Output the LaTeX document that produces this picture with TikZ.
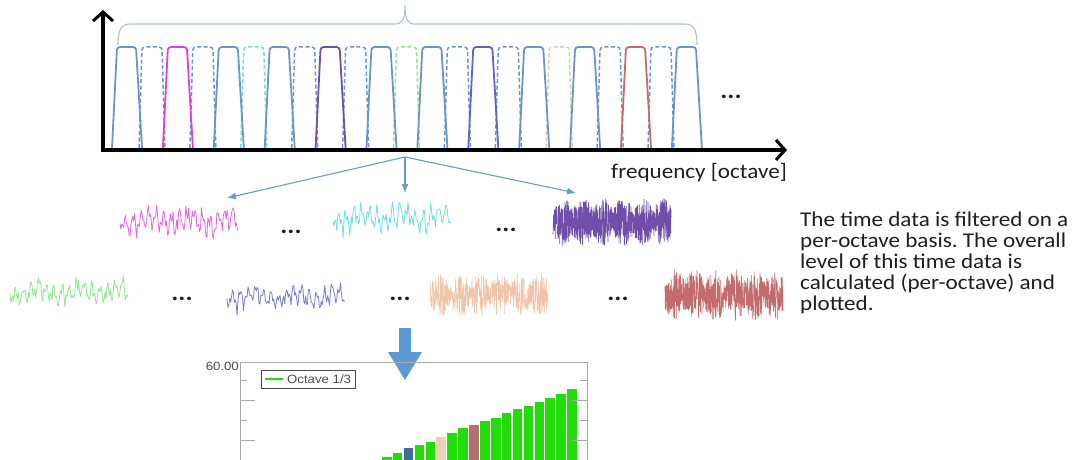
\documentclass[tikz,border=0pt]{standalone}
\usepackage{fontspec}
\setmainfont{Carlito}[FakeStretch=1.1]
\newfontfamily\plotfont{Liberation Sans}[FakeStretch=1.1]
\usetikzlibrary{arrows.meta}
\definecolor{bandblue}{HTML}{6B95C9}
\definecolor{bandmagenta}{HTML}{E040D8}
\definecolor{bandcyan}{HTML}{70DDE8}
\definecolor{bandpurple}{HTML}{6F4FAA}
\definecolor{bandgreen}{HTML}{8FE88F}
\definecolor{bandviolet}{HTML}{6464C8}
\definecolor{bandpeach}{HTML}{F0C4A8}
\definecolor{bandred}{HTML}{C46C6C}
\definecolor{bracegray}{HTML}{A9C1DA}
\definecolor{splitblue}{HTML}{6A9AC8}
\definecolor{bigblue}{HTML}{5B9BD5}
\definecolor{bargreen}{HTML}{22DD0A}
\definecolor{barsteel}{HTML}{3E6E96}
\definecolor{barbeige}{HTML}{E6D4B4}
\definecolor{barbrown}{HTML}{B27070}
\definecolor{framegray}{HTML}{A8A8A8}
\definecolor{inkgray}{HTML}{1E1E1E}
\frenchspacing
\begin{document}
\begin{tikzpicture}[x=1pt,y=-1pt,
  axis/.style={line width=3.6pt,-{Straight Barb[length=9pt,width=20pt,line width=3pt]}},
  solidband/.style={line width=1.8pt,rounded corners=3pt},
  dashband/.style={line width=1.5pt,rounded corners=3pt,dash pattern=on 4pt off 2.5pt},
  split/.style={splitblue,line width=1.1pt,-{Latex[length=9pt,width=7pt]}},
  wave/.style={line width=.8pt,line join=round},
  gap/.style={font=\bfseries\fontsize{24}{24}\selectfont,inner sep=0pt,anchor=base,text=inkgray},
  charttick/.style={framegray,line width=.8pt}]
  \useasboundingbox (0,0) rectangle (1080,460);
  \pgfmathsetseed{11}
  % filter bank
  \foreach \k/\col in {0/bandblue,1/bandblue,2/bandcyan,3/bandblue,4/bandblue,5/bandgreen,6/bandblue,7/bandblue,8/bandpeach,9/bandblue,10/bandblue}
    \draw[dashband,\col] ({142+50.9*\k-3},148) -- ({142+50.9*\k},47) -- ({142+50.9*\k+20},47) -- ({142+50.9*\k+23},148);
  \foreach \k/\col in {0/bandblue,1/bandmagenta,2/bandblue,3/bandblue,4/bandpurple,5/bandblue,6/bandblue,7/bandviolet,8/bandblue,9/bandblue,10/bandred,11/bandblue}
    \draw[solidband,\col] ({117+50.9*\k-5},148) -- ({117+50.9*\k},47) -- ({117+50.9*\k+19},47) -- ({117+50.9*\k+25},148);
  % brace over the bands
  \draw[bracegray,line width=1.1pt] (118,45) .. controls (118,30) and (121,24) .. (130,24) -- (395,24)
    .. controls (402,24) and (405,20) .. (405,5) .. controls (405,20) and (408,24) .. (415,24) -- (685,24)
    .. controls (694,24) and (697,30) .. (697,45);
  \coordinate (origin) at (103,150);
  \coordinate (ytop) at (103,10);
  \coordinate (xend) at (787,150);
  \draw[axis] (origin) -- (ytop);
  \draw[axis] ([xshift=-1.8pt]origin) -- (xend);
  \node[gap] (more) at (731,99) {...};
  \node[anchor=base east,inner sep=0pt,text=inkgray,font=\fontsize{21}{21}\selectfont] (xlabel) at (787,178) {frequency [octave]};
  % split into octave bands
  \coordinate (split) at (405,157);
  \coordinate (tipA) at (227,198);
  \coordinate (tipB) at (405,193);
  \coordinate (tipC) at (576,193);
  \draw[split] (split) -- (tipA);
  \draw[split] (split) -- (tipB);
  \draw[split] (split) -- (tipC);
  % time signals
  \foreach \col/\xa/\yc/\amp in {bandmagenta!80/120/221/16,bandcyan/333/218/16,bandgreen/10/292/14,bandviolet!85/227/297/14}
    \draw[wave,\col] plot[domain=0:118,samples=130,variable=\t] ({\xa+\t},{\yc+\amp*(0.5*sin(\t*47)+0.3*sin(\t*113+30)+0.25*sin(\t*9)+0.3*rand)});
  \foreach \col/\xa/\yc/\amp/\n in {bandpurple/553/222/24/800,bandpeach/430/295/22/420,bandred/665/295/26/600}
    \draw[line width=.6pt,\col] plot[domain=0:118,samples=\n,variable=\t] ({\xa+\t},{\yc+\amp*rand*(0.55+0.45*abs(sin(\t*9)))});
  \node[gap] (dotsA) at (291,233) {...};
  \node[gap] (dotsB) at (506,231) {...};
  \node[gap] (dotsC) at (182,300) {...};
  \node[gap] (dotsD) at (400,300) {...};
  \node[gap] (dotsE) at (618,300) {...};
  \node[anchor=north west,align=left,inner sep=0pt,text=inkgray,font=\fontsize{21}{21}\selectfont] (note) at (800,212)
    {The time data is filtered on a\\per-octave basis. The overall\\level of this time data is\\calculated (per-octave) and\\plotted.};
  % big arrow down
  \fill[bigblue] (399,328) -- (411,328) -- (411,352) -- (422,352) -- (405,380) -- (388,352) -- (399,352) -- cycle;
  % level chart
  \foreach \i/\ytop/\col in {1/457/bargreen,2/453/bargreen,3/448/barsteel,4/445/bargreen,5/442/bargreen,6/437/barbeige,7/433/bargreen,8/428/bargreen,9/425/barbrown,10/421/bargreen,11/418/bargreen,12/413/bargreen,13/409/bargreen,14/406/bargreen,15/402/bargreen,16/398/bargreen,17/394/bargreen,18/389/bargreen}
    \fill[\col] ({371+10.9*\i},\ytop) rectangle ({371+10.9*\i+9.6},460);
  \draw[framegray,line width=1pt] (240,460) -- (240,362) -- (587,362) -- (587,460);
  \foreach \y/\len in {380/7,400/15,420/7,440/15}{
    \draw[charttick] (240,\y) -- ++(\len,0);
    \draw[charttick] (587,\y) -- ++(-\len,0);
  }
  \node[anchor=east,inner sep=1pt,text=inkgray!80,font=\plotfont\fontsize{12}{12}\selectfont] (ymax) at (240,366) {60.00};
  \draw[inkgray!80,line width=.9pt] (261,370) rectangle (355,388);
  \draw[bargreen,line width=1.6pt] (265,379) -- (283,379);
  \node[anchor=west,inner sep=0pt,text=inkgray!80,font=\plotfont\fontsize{12}{12}\selectfont] (legend) at (287,379.5) {Octave 1/3};
\end{tikzpicture}
\end{document}
